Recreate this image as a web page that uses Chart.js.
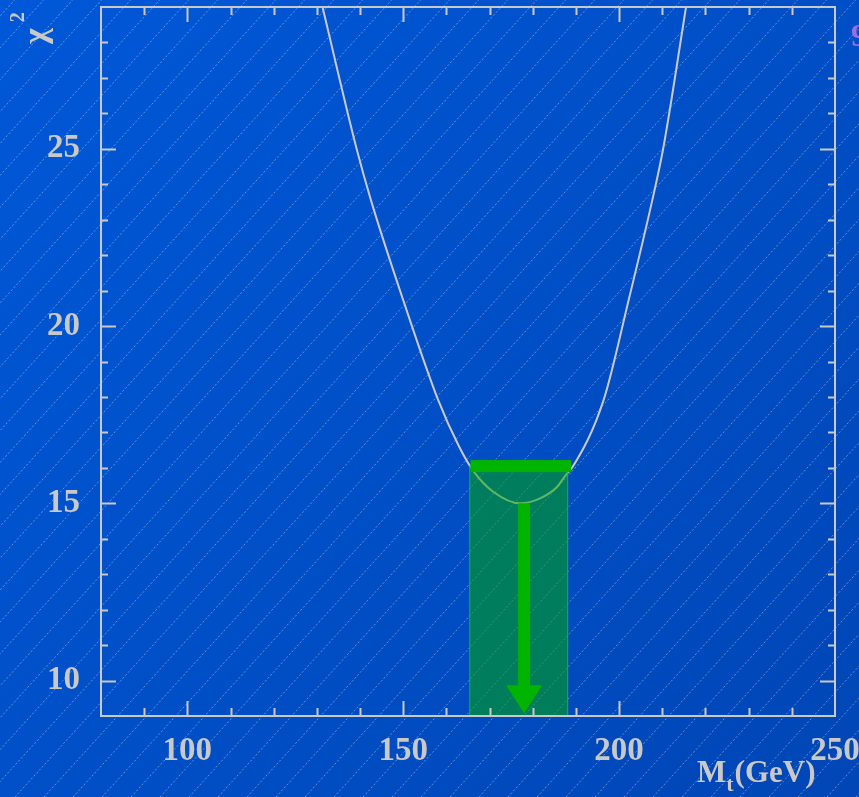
<!DOCTYPE html>
<html>
<head>
<meta charset="utf-8">
<script src="https://cdn.jsdelivr.net/npm/chart.js@4/dist/chart.umd.min.js"></script>
<style>
  html, body { margin: 0; padding: 0; background: #0050cc; }
  canvas { display: block; }
</style>
</head>
<body>
<canvas id="chi2" width="859" height="797"></canvas>
<script>
// curve: top mass (GeV) vs chi2
var massValues = [131.3, 139.2, 142.5, 150.0, 158.1, 162.9, 166.3, 170.9, 177.1, 181.7, 185.6, 187.9, 189.1, 196.4, 202.2, 207.7, 210.2, 215.5];
var chi2Values = [29.0, 25.0, 23.56, 20.73, 17.91, 16.61, 15.9, 15.32, 15.0, 15.14, 15.46, 15.84, 16.0, 17.91, 20.73, 23.56, 25.0, 29.0];

var xTicks = [100, 150, 200, 250];
var yTicks = [10, 15, 20, 25];

// green band (delta chi2 = 1) and the arrow
var bandMass = [165.3, 188.2];
var barMass = [165.6, 188.9];
var barChi2 = 16.05;
var arrowMass = 178.0;
var arrowChi2 = [15.0, 9.08];

var ink = '#c9c9c9';
var serif = '"Liberation Serif", "DejaVu Serif", serif';

var backdrop = {
  id: 'backdrop',
  beforeDraw: function(chart) {
    var c = chart.ctx, w = chart.width, h = chart.height;
    c.save();
    var g = c.createLinearGradient(0, 0, w, h);
    g.addColorStop(0, '#0058d8');
    g.addColorStop(1, '#0046b6');
    c.fillStyle = g;
    c.fillRect(0, 0, w, h);
    // diagonal hatching
    c.strokeStyle = 'rgba(255,255,255,0.38)';
    c.lineWidth = 1;
    c.setLineDash([2, 2]);
    var slope = 1.1, step = 29;
    for (var x0 = -h; x0 < w + h; x0 += step) {
      c.beginPath();
      c.moveTo(x0, h);
      c.lineTo(x0 + h / slope, 0);
      c.stroke();
    }
    c.restore();
  }
};

var band = {
  id: 'band',
  afterDatasetsDraw: function(chart) {
    var c = chart.ctx, xs = chart.scales.x, ys = chart.scales.y;
    var left = xs.getPixelForValue(bandMass[0]), right = xs.getPixelForValue(bandMass[1]);
    var top = ys.getPixelForValue(barChi2), bottom = ys.getPixelForValue(ys.min);
    c.save();
    c.fillStyle = 'rgba(0,170,0,0.52)';
    c.fillRect(left, top, right - left, bottom - top);
    c.strokeStyle = 'rgba(20,200,20,0.8)';
    c.lineWidth = 1;
    c.strokeRect(left + 0.5, top, right - left - 1, bottom - top);
    // thick bar at chi2_min + 1
    c.fillStyle = '#00b400';
    var bl = xs.getPixelForValue(barMass[0]), br = xs.getPixelForValue(barMass[1]);
    c.fillRect(bl, top - 6, br - bl, 12);
    // arrow
    var ax = xs.getPixelForValue(arrowMass);
    var ay0 = ys.getPixelForValue(arrowChi2[0]), ay1 = ys.getPixelForValue(arrowChi2[1]);
    var head = 28;
    c.fillRect(ax - 6, ay0, 12, ay1 - ay0 - head + 1);
    c.beginPath();
    c.moveTo(ax - 18, ay1 - head);
    c.lineTo(ax + 18, ay1 - head);
    c.lineTo(ax, ay1);
    c.closePath();
    c.fill();
    c.restore();
  }
};

var frame = {
  id: 'frame',
  afterDraw: function(chart) {
    var c = chart.ctx, a = chart.chartArea, xs = chart.scales.x, ys = chart.scales.y;
    c.save();
    c.strokeStyle = ink;
    c.lineWidth = 2;
    c.strokeRect(a.left, a.top, a.right - a.left, a.bottom - a.top);
    c.beginPath();
    for (var m = 90; m < 250; m += 10) {
      var px = Math.round(xs.getPixelForValue(m)) + 0.5;
      var len = (m % 50 === 0) ? 15 : 8;
      c.moveTo(px, a.bottom); c.lineTo(px, a.bottom - len);
      c.moveTo(px, a.top); c.lineTo(px, a.top + len);
    }
    for (var v = 10; v < 29; v += 1) {
      var py = Math.round(ys.getPixelForValue(v)) + 0.5;
      var l2 = (v % 5 === 0) ? 15 : 7;
      c.moveTo(a.left, py); c.lineTo(a.left + l2, py);
      c.moveTo(a.right, py); c.lineTo(a.right - l2, py);
    }
    c.stroke();

    // axis titles
    c.fillStyle = ink;
    c.textBaseline = 'alphabetic';
    c.textAlign = 'left';
    c.font = 'bold 31px ' + serif;
    c.fillText('M', 697, 782);
    var mw = c.measureText('M').width;
    c.font = 'bold 22px ' + serif;
    c.fillText('t', 697 + mw, 791);
    var tw = c.measureText('t').width;
    c.font = 'bold 31px ' + serif;
    c.fillText('(GeV)', 697 + mw + tw + 1, 782);

    c.save();
    c.translate(46, 44);
    c.rotate(-Math.PI / 2);
    c.font = 'bold 34px ' + serif;
    c.fillText('\u03c7', 0, 0);
    var cw = c.measureText('\u03c7').width;
    c.font = 'bold 20px ' + serif;
    c.fillText('2', cw + 6, -22);
    c.restore();

    c.fillStyle = '#9a6ee0';
    c.font = 'bold 32px ' + serif;
    c.fillText('9', 851, 46);
    c.restore();
  }
};

function noPad(s) {
  s.paddingTop = 0; s.paddingBottom = 0; s.paddingLeft = 0; s.paddingRight = 0;
}

document.addEventListener('DOMContentLoaded', function() {
  var ctx = document.getElementById('chi2').getContext('2d');
  var points = massValues.map(function(m, i) { return { x: m, y: chi2Values[i] }; });

  new Chart(ctx, {
    type: 'line',
    data: {
      datasets: [{
        data: points,
        borderColor: ink,
        borderWidth: 2,
        pointRadius: 0,
        cubicInterpolationMode: 'monotone',
        fill: false
      }]
    },
    options: {
      responsive: false,
      animation: false,
      layout: { padding: { top: 7, right: 24, left: 0, bottom: 0 } },
      plugins: { legend: { display: false }, tooltip: { enabled: false } },
      scales: {
        x: {
          type: 'linear',
          min: 80, max: 250,
          grid: { display: false },
          border: { display: false },
          afterBuildTicks: function(s) { s.ticks = xTicks.map(function(v) { return { value: v }; }); },
          afterFit: function(s) { s.height = 81; noPad(s); },
          ticks: { color: ink, padding: 8, maxRotation: 0, font: { family: serif, weight: 'bold', size: 33 } }
        },
        y: {
          min: 9, max: 29,
          grid: { display: false },
          border: { display: false },
          afterBuildTicks: function(s) { s.ticks = yTicks.map(function(v) { return { value: v }; }); },
          afterFit: function(s) { s.width = 101; noPad(s); },
          ticks: { color: ink, padding: 13, font: { family: serif, weight: 'bold', size: 33 } }
        }
      }
    },
    plugins: [backdrop, band, frame]
  });
});
</script>
</body>
</html>
